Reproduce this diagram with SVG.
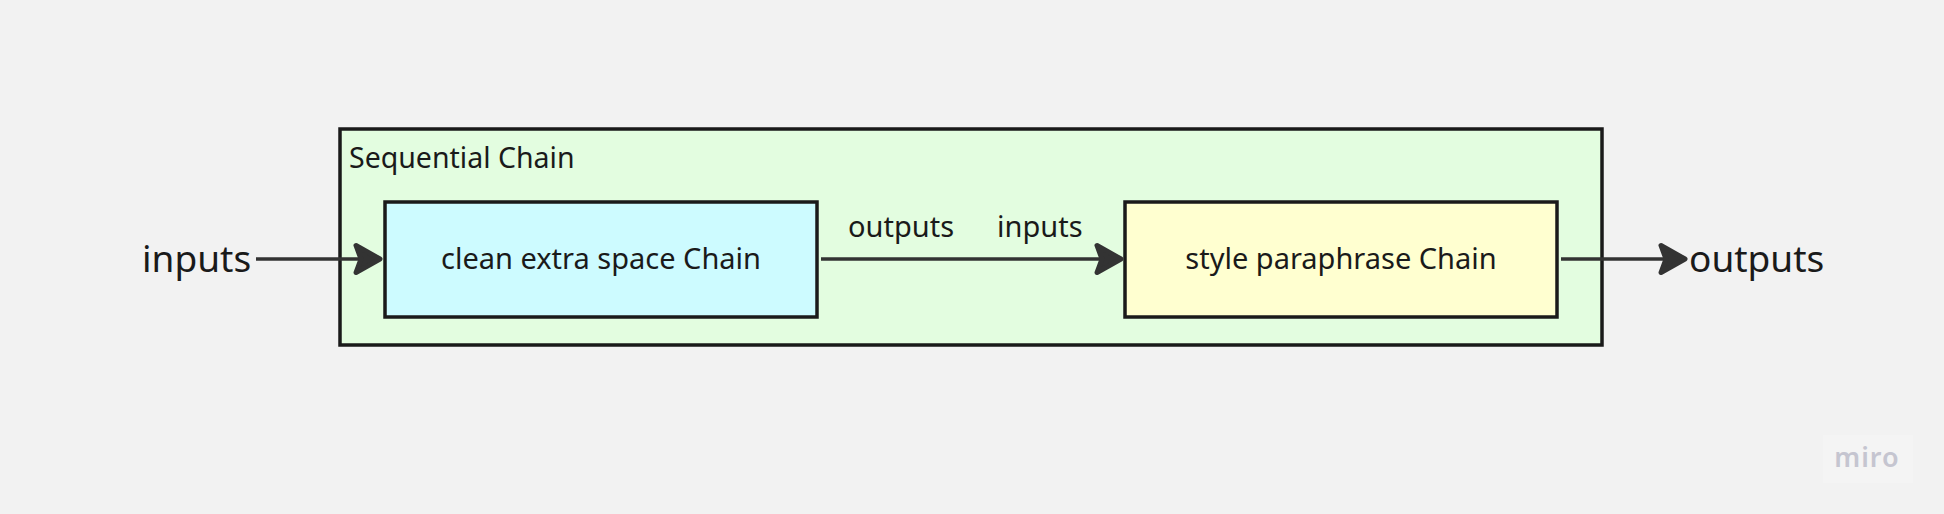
<svg xmlns="http://www.w3.org/2000/svg" width="1944" height="514" viewBox="0 0 1944 514">
  <style>
    text { font-family: "Noto Sans", "Open Sans", "Liberation Sans", sans-serif; fill: #1a1a1a; }
    .box { stroke: #1a1a1a; stroke-width: 3.5; }
    .conn { stroke: #333333; stroke-width: 3.5; fill: none; }
    .lbl { font-size: 29px; }
    .big { font-size: 37px; }
  </style>
  <defs>
    <marker id="arrow" markerUnits="userSpaceOnUse" viewBox="-34 -20 38 40" refX="0" refY="0" markerWidth="38" markerHeight="40" orient="auto" overflow="visible">
      <path d="M -24,-13.5 L 0,0 L -24,13.5 L -19,0 Z" fill="#333333" stroke="#333333" stroke-width="5" stroke-linejoin="round"/>
    </marker>
  </defs>
  <rect x="0" y="0" width="1944" height="514" fill="#f2f2f2"/>

  <g id="sequential-chain">
    <rect class="box" x="340" y="129" width="1262" height="216" fill="#e3fde0"/>
    <text x="349" y="168" style="font-size:28.5px">Sequential Chain</text>
  </g>

  <g id="clean-extra-space-chain">
    <rect class="box" x="385" y="202" width="432" height="115" fill="#cdfbff"/>
    <text class="lbl" x="601" y="269" text-anchor="middle">clean extra space Chain</text>
  </g>

  <g id="style-paraphrase-chain">
    <rect class="box" x="1125" y="202" width="432" height="115" fill="#ffffd0"/>
    <text class="lbl" x="1341" y="269" text-anchor="middle">style paraphrase Chain</text>
  </g>

  <g id="input-label">
    <text class="big" x="142" y="272">inputs</text>
  </g>

  <g id="output-label">
    <text class="big" x="1689" y="272">outputs</text>
  </g>

  <g id="connectors">
    <line class="conn" x1="256" y1="259" x2="380" y2="259" marker-end="url(#arrow)"/>
    <line class="conn" x1="821" y1="259" x2="1121" y2="259" marker-end="url(#arrow)"/>
    <line class="conn" x1="1561" y1="259" x2="1685" y2="259" marker-end="url(#arrow)"/>
    <text class="lbl" x="848" y="237">outputs</text>
    <text class="lbl" x="997" y="237">inputs</text>
  </g>

  <g id="miro-logo">
    <rect x="1823" y="435" width="90" height="48" fill="#f4f4f4"/>
    <text x="1867" y="467" text-anchor="middle" style="font-size:27px;font-weight:600;fill:#c5c5d0;letter-spacing:1px">miro</text>
  </g>
</svg>
